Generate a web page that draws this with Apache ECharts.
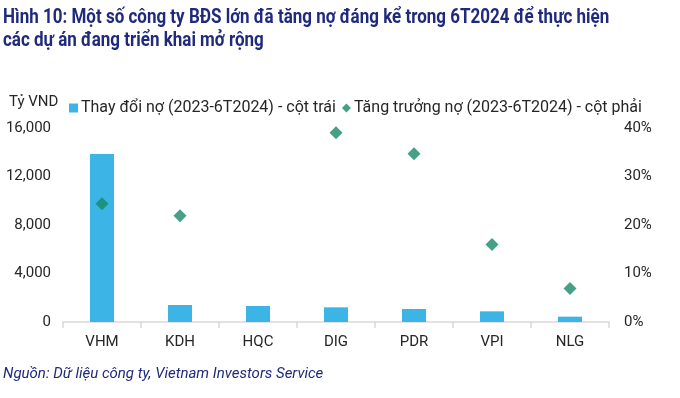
<!DOCTYPE html>
<html>
<head>
<meta charset="utf-8">
<script src="https://cdn.jsdelivr.net/npm/echarts@6/dist/echarts.min.js"></script>
<style>
html,body{margin:0;padding:0;background:#fff;}
#chart{width:680px;height:398px;}
</style>
</head>
<body>
<div id="chart"></div>
<script>
var categories = ['VHM', 'KDH', 'HQC', 'DIG', 'PDR', 'VPI', 'NLG'];
var debtChange = [13850, 1400, 1320, 1210, 1070, 880, 440];
var debtGrowth = [0.244, 0.219, null, 0.390, 0.347, 0.160, 0.069];
var leftTicks = [0, 4000, 8000, 12000, 16000];
var rightTicks = [0, 0.1, 0.2, 0.3, 0.4];
var titleLines = ['Hình 10: Một số công ty BĐS lớn đã tăng nợ đáng kể trong 6T2024 để thực hiện', 'các dự án đang triển khai mở rộng'];
var seriesNames = ['Thay đổi nợ (2023-6T2024) - cột trái', 'Tăng trưởng nợ (2023-6T2024) - cột phải'];
var unitLabel = 'Tỷ VND';
var sourceText = 'Nguồn: Dữ liệu công ty, Vietnam Investors Service';

var chart = echarts.init(document.getElementById('chart'));
var navy = '#1f2a7c';
var txt = '#262626';
var option = {
  animation: false,
  textStyle: {fontFamily: 'Roboto'},
  graphic: [
    {type: 'text', left: 3, top: 6, scaleX: 0.85, scaleY: 1,
     style: {text: titleLines.join('\n'), font: 'bold 20px Roboto', fill: navy, lineHeight: 23}},
    {type: 'text', left: 9, top: 95,
     style: {text: unitLabel, font: '15px Roboto', fill: txt}},
    {type: 'text', left: 3, top: 367,
     style: {text: sourceText, font: 'italic 15px Roboto', fill: navy}}
  ],
  legend: {
    left: 64, top: 95, itemGap: 6, itemWidth: 9, itemHeight: 9,
    textStyle: {fontSize: 16, color: txt, fontFamily: 'Roboto', padding: [0,0,0,-2]},
    data: [{name: seriesNames[0], icon: 'rect'}, {name: seriesNames[1], icon: 'diamond'}]
  },
  grid: {left: 63, right: 71, top: 128, bottom: 76, containLabel: false},
  xAxis: {
    type: 'category', data: categories,
    axisLine: {lineStyle: {color: '#d9d9d9', width: 1.5}},
    axisTick: {show: true, length: 6, lineStyle: {color: '#d9d9d9', width: 1.5}},
    axisLabel: {color: txt, fontSize: 15, margin: 13}
  },
  yAxis: [
    {type: 'value', min: 0, max: 16000, interval: 4000,
     splitLine: {show: false}, axisLine: {show: false}, axisTick: {show: false},
     axisLabel: {color: txt, fontSize: 15, margin: 12,
       formatter: function (v) { return v.toLocaleString('en-US'); }}},
    {type: 'value', min: 0, max: 0.4, interval: 0.1,
     splitLine: {show: false}, axisLine: {show: false}, axisTick: {show: false},
     axisLabel: {color: txt, fontSize: 15, margin: 15,
       formatter: function (v) { return Math.round(v * 100) + '%'; }}}
  ],
  series: [
    {name: seriesNames[0], type: 'bar', data: debtChange, yAxisIndex: 0,
     barWidth: 24, itemStyle: {color: '#3cb4e6'}},
    {name: seriesNames[1], type: 'scatter', data: debtGrowth, yAxisIndex: 1,
     symbol: 'diamond', symbolSize: 13, itemStyle: {color: '#178a68'}, z: 5}
  ]
};
chart.setOption(option);
</script>
</body>
</html>
